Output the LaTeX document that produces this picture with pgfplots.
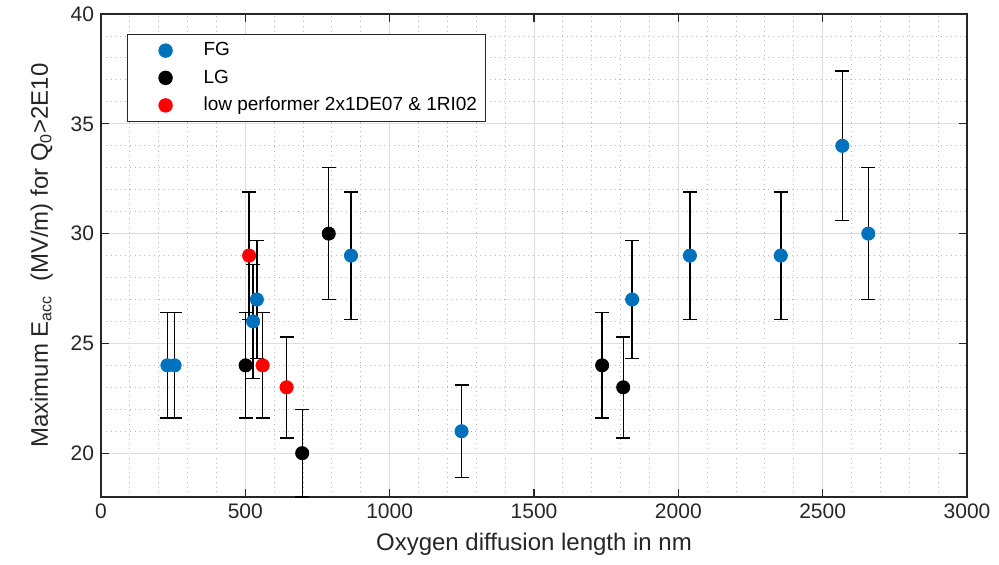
\documentclass[border=0pt]{standalone}
\usepackage{pgfplots}
\pgfplotsset{compat=1.18}
\usepackage{pgfplotstable}
\usepackage{fontspec}
\setmainfont{Liberation Sans}
\definecolor{mblue}{rgb}{0,0.447,0.741}
\definecolor{axgray}{rgb}{0.15,0.15,0.15}
\pgfplotstableread{
x y e
230 24 2.4
255 24 2.4
527 26 2.6
540 27 2.7
866 29 2.9
1249 21 2.1
1840 27 2.7
2040 29 2.9
2355 29 2.9
2568 34 3.4
2658 30 3.0
}\fgdata
\pgfplotstableread{
x y e
501 24 2.4
789 30 3.0
697 20 2.0
1736 24 2.4
1809 23 2.3
}\lgdata
\pgfplotstableread{
x y e
513 29 2.9
560 24 2.4
643 23 2.3
}\lowdata
\begin{document}
\begin{tikzpicture}
\begin{axis}[
  scale only axis,
  width=433pt, height=241.5pt,
  xmin=0, xmax=3000, ymin=18, ymax=40,
  xtick={0,500,...,3000}, ytick={20,25,...,40},
  minor x tick num=4, minor y tick num=4,
  grid=both,
  major grid style={draw=black!13, line width=0.5pt},
  minor grid style={draw=black!28, dotted, line width=0.5pt},
  tick align=inside,
  major tick length=4pt, minor tick length=0pt,
  axis line style={draw=axgray, line width=0.6pt},
  every tick/.style={draw=axgray, line width=0.6pt},
  tick label style={font=\fontsize{10.5}{12}\selectfont, text=axgray},
  /pgf/number format/assume math mode=true,
  /pgf/number format/set thousands separator={},
  label style={font=\fontsize{12}{14}\selectfont, text=axgray},
  xlabel={Oxygen diffusion length in nm},
  ylabel={Maximum E\textsubscript{acc}\ \ (MV/m) for Q\textsubscript{0}>2E10},
  ylabel style={xshift=0pt, yshift=2pt},
  legend style={at={(axis description cs:0.03,0.959)}, anchor=north west,
    draw=axgray, line width=0.6pt, font=\fontsize{9.5}{11.5}\selectfont,
    inner xsep=2pt, inner ysep=2pt, row sep=1.5pt},
  legend cell align=left,
  legend image code/.code={\path[draw=none] (0pt,0pt) -- (34pt,0pt); \path[#1, draw=none] plot coordinates {(17pt,0pt)};},
  clip=false,
]
\pgfplotsset{errstyle/.style={draw=none, mark=none, forget plot,
  error bars/.cd, y dir=both, y explicit,
  error bar style={black, line width=0.7pt},
  error mark options={rotate=90, mark size=3.5pt, black, line width=0.7pt}}}
\addplot[errstyle] table[x=x, y=y, y error=e] {\fgdata};
\addplot[errstyle] table[x=x, y=y, y error=e] {\lgdata};
\addplot[errstyle] table[x=x, y=y, y error=e] {\lowdata};
\addplot[only marks, mark=*, mark size=3.3pt, mblue, mark options={draw=mblue, fill=mblue}] table[x=x, y=y] {\fgdata};
\addlegendentry{FG}
\addplot[only marks, mark=*, mark size=3.3pt, black, mark options={draw=black, fill=black}] table[x=x, y=y] {\lgdata};
\addlegendentry{LG}
\addplot[only marks, mark=*, mark size=3.3pt, red, mark options={draw=red, fill=red}] table[x=x, y=y] {\lowdata};
\addlegendentry{low performer 2x1DE07 \& 1RI02}
\end{axis}
\path[use as bounding box] (-50.5pt,-33.5pt) rectangle (449pt,248.5pt);
\end{tikzpicture}
\end{document}
